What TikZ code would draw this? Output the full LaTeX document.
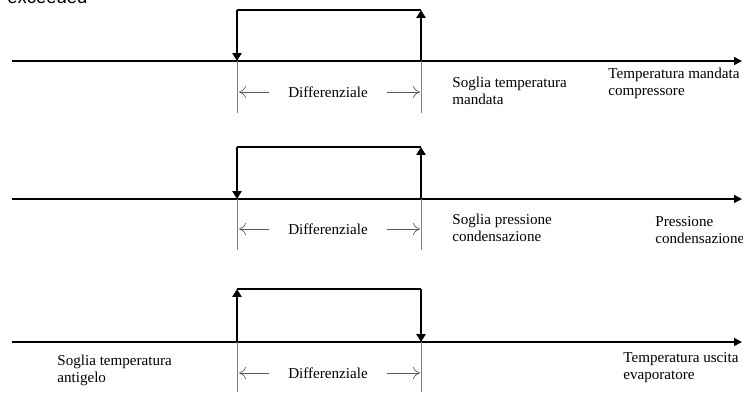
\documentclass[tikz,border=0pt]{standalone}
\usepackage{fontspec}
\setmainfont{Liberation Serif}
\newfontfamily\capfont{Liberation Sans}
\usetikzlibrary{arrows.meta}
\begin{document}
\begin{tikzpicture}[x=0.02cm,y=-0.02cm,
    axis/.style={line width=0.8pt,-{Triangle[length=4.5pt,width=4.5pt]}},
    level/.style={line width=1pt},
    switch/.style={line width=1pt,-{Triangle[length=4.5pt,width=5.2pt]}},
    guide/.style={gray,line width=0.5pt},
    span/.style={gray!70!black,line width=0.35pt,-{To[length=4pt,width=7pt]}},
    diff/.style={font=\fontsize{8.6}{9.6}\selectfont,inner xsep=11pt,inner ysep=0pt},
    lbl/.style={font=\fontsize{8.6}{9.6}\selectfont,align=left,anchor=west,inner sep=0pt}]
  \useasboundingbox (0,0) rectangle (743,392);
  \clip (0,0) rectangle (743,392);
  \node[font=\capfont\fontsize{10.5}{12}\selectfont,anchor=base west,inner sep=0pt] (cap) at (7,3.5) {exceeded};

  % temperatura mandata
  \coordinate (ax1s) at (12,61);
  \coordinate (ax1e) at (742,61);
  \coordinate (on1b) at (237,61);
  \coordinate (on1t) at (237,10);
  \coordinate (off1b) at (421,61);
  \coordinate (off1t) at (421,10);
  \coordinate (on1g) at (237,113);
  \coordinate (off1g) at (421,113);
  \coordinate (sp1l) at (239,92);
  \coordinate (sp1r) at (420,92);
  \node[diff] (diff1) at (328,92) {Differenziale};
  \node[lbl] (soglia1) at (452,91) {Soglia temperatura\\mandata};
  \node[lbl] (var1) at (608,83) {Temperatura mandata\\compressore};
  \draw[axis] (ax1s) -- (ax1e);
  \draw[guide] (on1b) -- (on1g);
  \draw[guide] (off1b) -- (off1g);
  \draw[level] (on1t) -- (off1t);
  \draw[switch] (on1t) -- (on1b);
  \draw[switch] (off1b) -- (off1t);
  \draw[span] (diff1) -- (sp1l);
  \draw[span] (diff1) -- (sp1r);

  % pressione condensazione
  \coordinate (ax2s) at (12,199);
  \coordinate (ax2e) at (742,199);
  \coordinate (on2b) at (237,199);
  \coordinate (on2t) at (237,147);
  \coordinate (off2b) at (421,199);
  \coordinate (off2t) at (421,147);
  \coordinate (on2g) at (237,250);
  \coordinate (off2g) at (421,250);
  \coordinate (sp2l) at (239,229);
  \coordinate (sp2r) at (420,229);
  \node[diff] (diff2) at (328,229) {Differenziale};
  \node[lbl] (soglia2) at (452,228) {Soglia pressione\\condensazione};
  \node[lbl] (var2) at (655,230) {Pressione\\condensazione};
  \draw[axis] (ax2s) -- (ax2e);
  \draw[guide] (on2b) -- (on2g);
  \draw[guide] (off2b) -- (off2g);
  \draw[level] (on2t) -- (off2t);
  \draw[switch] (on2t) -- (on2b);
  \draw[switch] (off2b) -- (off2t);
  \draw[span] (diff2) -- (sp2l);
  \draw[span] (diff2) -- (sp2r);

  % temperatura uscita evaporatore
  \coordinate (ax3s) at (12,342);
  \coordinate (ax3e) at (742,342);
  \coordinate (on3b) at (237,342);
  \coordinate (on3t) at (237,289);
  \coordinate (off3b) at (421,342);
  \coordinate (off3t) at (421,289);
  \coordinate (on3g) at (237,392);
  \coordinate (off3g) at (421,392);
  \coordinate (sp3l) at (239,373);
  \coordinate (sp3r) at (420,373);
  \node[diff] (diff3) at (328,373) {Differenziale};
  \node[lbl] (soglia3) at (57,370) {Soglia temperatura\\antigelo};
  \node[lbl] (var3) at (623,368) {Temperatura uscita\\evaporatore};
  \draw[axis] (ax3s) -- (ax3e);
  \draw[guide] (on3b) -- (on3g);
  \draw[guide] (off3b) -- (off3g);
  \draw[level] (on3t) -- (off3t);
  \draw[switch] (on3b) -- (on3t);
  \draw[switch] (off3t) -- (off3b);
  \draw[span] (diff3) -- (sp3l);
  \draw[span] (diff3) -- (sp3r);
\end{tikzpicture}
\end{document}
